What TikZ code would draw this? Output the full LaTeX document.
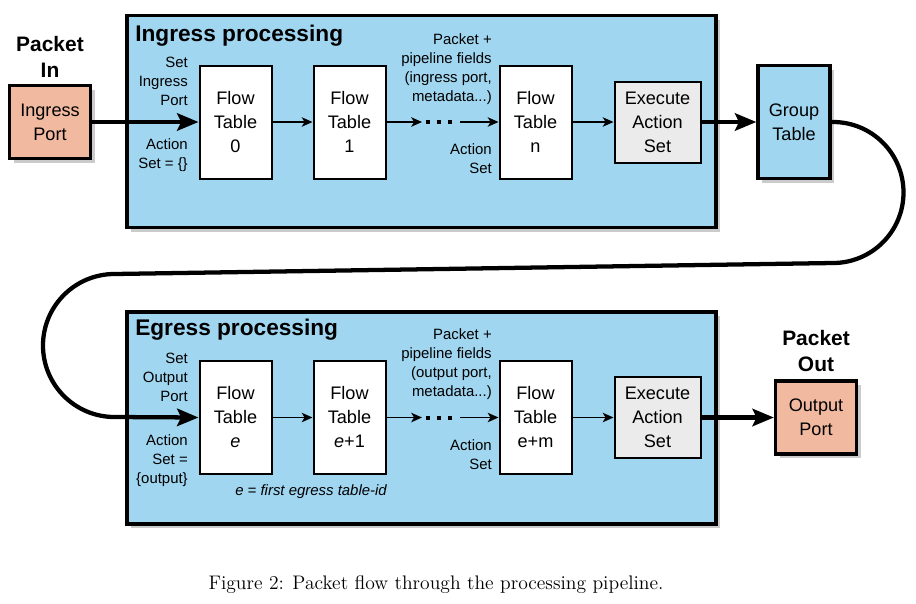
\documentclass[tikz,border=0pt]{standalone}
\usepackage{fontspec}
\newfontfamily\arialfont{Liberation Sans}
\usetikzlibrary{arrows.meta,shadows}
\definecolor{pipeblue}{RGB}{160,214,240}
\definecolor{portsalmon}{RGB}{241,185,160}
\definecolor{execgray}{RGB}{235,235,235}
\begin{document}
\begin{tikzpicture}[x=0.75pt,y=-0.75pt,line join=miter,
		shadowed/.style={drop shadow={shadow xshift=3pt,shadow yshift=-3pt,fill=black!45,opacity=0.45}},
		bigbox/.style={draw,line width=2.5pt,fill=pipeblue,shadowed,minimum width=589*\px,minimum height=212*\px},
		tablebox/.style={draw,line width=1.5pt,fill=white,align=center,minimum width=72*\px,minimum height=113*\px,
			font=\arialfont\fontsize{13.6}{18}\selectfont},
		execbox/.style={tablebox,fill=execgray,minimum width=86*\px,minimum height=81*\px},
		portbox/.style={tablebox,line width=2.5pt,shadowed,fill=portsalmon,minimum width=81*\px,minimum height=73*\px},
		groupbox/.style={tablebox,line width=2.5pt,shadowed,fill=pipeblue},
		title/.style={anchor=base west,inner sep=0pt,font=\arialfont\bfseries\fontsize{17}{20}\selectfont},
		packet/.style={align=center,inner sep=0pt,font=\arialfont\bfseries\fontsize{15.7}{20}\selectfont},
		note/.style={align=right,anchor=east,inner sep=0pt,font=\arialfont\fontsize{11.2}{14.2}\selectfont},
		thinarrow/.style={line width=1.4pt,-{Stealth[length=8pt,width=7pt,inset=2pt]}},
		thickarrow/.style={line width=3.2pt,-{Stealth[length=16pt,width=13pt,inset=3pt]}}]
	\def\px{0.75pt}
	\useasboundingbox (0,0) rectangle (916,603);
	% ingress
	\node[bigbox] (ingress) at (421.5,121.5) {};
	\node[title] at (135,41) {Ingress processing};
	\node[packet] (pin) at (50,57) {Packet\\In};
	\node[portbox] (inport) at (50,122) {Ingress\\Port};
	\node[tablebox] (ft0) at (235.5,122) {Flow\\Table\\0};
	\node[tablebox] (ft1) at (349.5,122) {Flow\\Table\\1};
	\node[tablebox] (ftn) at (535.5,122) {Flow\\Table\\n};
	\node[execbox] (exec) at (657.5,122) {Execute\\Action\\Set};
	\node[groupbox] (group) at (794,122) {Group\\Table};
	\node[note] at (188,81.5) {Set\\Ingress\\Port};
	\node[note] at (188,155.5) {Action\\Set = \{\}};
	\node[note] at (492,69) {Packet +\\pipeline fields\\(ingress port,\\metadata...)};
	\node[note] at (492,158.5) {Action\\Set};
	\coordinate (dotsin) at (422,122);
	\coordinate (dotsout) at (460,122);
	\draw[thickarrow] (inport) -- (ft0);
	\draw[thinarrow] (ft0) -- (ft1);
	\draw[thinarrow] (ft1) -- (dotsin);
	\foreach \d in {428,439,450} \fill (\d-2,120) rectangle (\d+2,124);
	\draw[thinarrow] (dotsout) -- (ftn);
	\draw[thinarrow] (ftn) -- (exec);
	\draw[thickarrow] (exec) -- (group);
	% egress
	\node[bigbox] (egress) at (421.5,418) {};
	\node[title] at (135,335) {Egress processing};
	\node[packet] (pout) at (816,351) {Packet\\Out};
	\node[tablebox] (fte) at (235.5,417.5) {Flow\\Table\\\textit{e}};
	\node[tablebox] (fte1) at (349.5,417.5) {Flow\\Table\\\textit{e}+1};
	\node[tablebox] (ftm) at (535.5,417.5) {Flow\\Table\\e+m};
	\node[execbox] (exece) at (657.5,417.5) {Execute\\Action\\Set};
	\node[portbox] (outport) at (816,417.5) {Output\\Port};
	\node[note] at (188,377) {Set\\Output\\Port};
	\node[note] at (188,461) {Action\\Set =\\\{output\}};
	\node[note] at (492,364.5) {Packet +\\pipeline fields\\(output port,\\metadata...)};
	\node[note] at (492,454.5) {Action\\Set};
	\node[note,anchor=base,font=\arialfont\itshape\fontsize{11.2}{14.2}\selectfont] at (311,495) {e = first egress table-id};
	\coordinate (dotsine) at (422,417.5);
	\coordinate (dotsoute) at (460,417.5);
	\draw[thinarrow] (fte) -- (fte1);
	\draw[thinarrow] (fte1) -- (dotsine);
	\foreach \d in {428,439,450} \fill (\d-2,415.5) rectangle (\d+2,419.5);
	\draw[thinarrow] (dotsoute) -- (ftm);
	\draw[thinarrow] (ftm) -- (exece);
	\draw[thickarrow] (exece) -- (outport);
	% loop from group table back to egress
	\draw[thickarrow,line cap=round] (group.east) -- (833,122) arc[start angle=-90,end angle=90,radius=70.5]
		-- (114.5,274) arc[start angle=-90,end angle=-270,radius=71.5] -- (fte.west);
	\node[anchor=base,inner sep=0pt,font=\fontsize{14.7}{17}\selectfont] (caption) at (436,589)
		{Figure 2: Packet flow through the processing pipeline.};
\end{tikzpicture}
\end{document}
